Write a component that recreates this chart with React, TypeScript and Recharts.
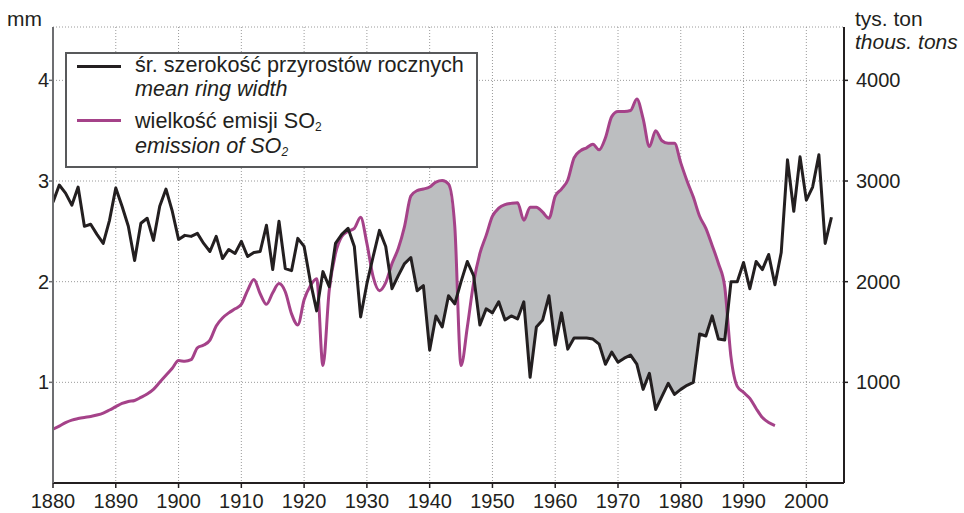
import { ComposedChart, Line, Area, XAxis, YAxis, CartesianGrid, Legend } from "recharts";

// mean ring width (mm), 1880-2004
const years = Array.from({ length: 125 }, (_, i) => 1880 + i);

const ringWidth = [
  2.79, 2.96, 2.88, 2.76, 2.94, 2.55, 2.57, 2.47, 2.38, 2.61,
  2.93, 2.75, 2.55, 2.21, 2.58, 2.63, 2.41, 2.75, 2.92, 2.7,
  2.42, 2.46, 2.45, 2.48, 2.38, 2.3, 2.45, 2.23, 2.32, 2.28,
  2.4, 2.25, 2.29, 2.3, 2.56, 2.12, 2.6, 2.13, 2.11, 2.43,
  2.35, 2.0, 1.71, 2.1, 1.95, 2.38, 2.47, 2.53, 2.35, 1.65,
  1.98, 2.25, 2.51, 2.35, 1.93, 2.06, 2.18, 2.24, 1.91, 1.96,
  1.32, 1.66, 1.55, 1.86, 1.78, 2.0, 2.2, 2.06, 1.57, 1.73,
  1.69, 1.8, 1.62, 1.66, 1.63, 1.8, 1.05, 1.55, 1.62, 1.86,
  1.37, 1.69, 1.33, 1.44, 1.44, 1.44, 1.43, 1.38, 1.18, 1.3,
  1.2, 1.24, 1.27, 1.18, 0.93, 1.09, 0.73, 0.86, 0.99, 0.88,
  0.93, 0.97, 1.0, 1.48, 1.46, 1.66, 1.43, 1.42, 2.0, 2.0,
  2.19, 1.93, 2.2, 2.12, 2.27, 1.97, 2.29, 3.21, 2.7, 3.24,
  2.81, 2.94, 3.26, 2.38, 2.64,
];

// SO2 emission (thousand tons), 1880-1995
const so2Emission = [
  535, 565, 600, 625, 640, 651, 660, 675, 695, 725,
  758, 790, 810, 820, 850, 884, 930, 1000, 1070, 1140,
  1216, 1210, 1225, 1343, 1370, 1420, 1560, 1640, 1690, 1730,
  1775, 1914, 2021, 1880, 1775, 1890, 1981, 1900, 1680, 1570,
  1820, 1960, 2030, 1167, 1914, 2280, 2450, 2500, 2530, 2640,
  2380, 2047, 1910, 1990, 2180, 2330, 2550, 2850, 2905, 2920,
  2940, 2990, 3004, 2970, 2550, 1167, 1550, 1990, 2280, 2460,
  2650, 2730, 2765, 2778, 2785, 2610, 2740, 2740, 2690, 2630,
  2850, 2920, 3010, 3230, 3300, 3330, 3365, 3310, 3430, 3640,
  3690, 3690, 3700, 3815, 3620, 3343, 3500, 3400, 3375, 3375,
  3180, 3000, 2840, 2650, 2530, 2360, 2180, 1950, 1250, 960,
  900, 840, 740, 650, 600, 570,
];

const decadeTicks = [1880, 1890, 1900, 1910, 1920, 1930, 1940, 1950, 1960, 1970, 1980, 1990, 2000];
const mmTicks = [1, 2, 3, 4];
const tonTicks = [1000, 2000, 3000, 4000];

// shaded period where emission runs above ring width
const FILL_FROM = 1933;
const FILL_TO = 1988;

const INK = "#231f20";
const MAGENTA = "#a54289";
const FONT = "'Liberation Sans', Arial, sans-serif";

type Row = { year: number; ring?: number; so2?: number | null; band?: [number, number] | null };

function buildRows(): Row[] {
  const rows: Row[] = years.map((year, i) => ({
    year,
    ring: ringWidth[i],
    so2: i < so2Emission.length ? so2Emission[i] : null,
    band: null,
  }));
  const crossings: Row[] = [];
  rows.forEach((r, i) => {
    if (r.year < FILL_FROM || r.year > FILL_TO || r.so2 == null) return;
    const em = r.so2 / 1000;
    r.band = [r.ring!, Math.max(r.ring!, em)];
    const next = rows[i + 1];
    if (!next || next.year > FILL_TO || next.so2 == null) return;
    const d0 = em - r.ring!;
    const d1 = next.so2 / 1000 - next.ring!;
    if (d0 * d1 < 0) {
      const t = d0 / (d0 - d1);
      const v = r.ring! + t * (next.ring! - r.ring!);
      crossings.push({ year: r.year + t, band: [v, v] });
    }
  });
  return [...rows, ...crossings].sort((a, b) => a.year - b.year);
}

const data = buildRows();

const tickStyle = { fontSize: 20, fill: INK, fontFamily: FONT };

function LegendBox() {
  const text = { position: "absolute" as const, left: 68, fontSize: 21.6, lineHeight: "24px", whiteSpace: "nowrap" as const, color: INK };
  const sub = { fontSize: 12, position: "relative" as const, top: 3 };
  return (
    <div
      style={{
        position: "relative",
        width: 413,
        height: 116,
        boxSizing: "border-box",
        border: "2px solid #58595b",
        background: "#fff",
        fontFamily: FONT,
      }}
    >
      <div style={{ position: "absolute", left: 10, top: 11, width: 44, height: 3, background: INK }} />
      <div style={{ ...text, top: -1 }}>śr. szerokość przyrostów rocznych</div>
      <div style={{ ...text, top: 23, fontStyle: "italic" }}>mean ring width</div>
      <div style={{ position: "absolute", left: 10, top: 65, width: 44, height: 3, background: MAGENTA }} />
      <div style={{ ...text, top: 55 }}>
        wielkość emisji SO<span style={sub}>2</span>
      </div>
      <div style={{ ...text, top: 80, fontStyle: "italic" }}>
        emission of SO<span style={sub}>2</span>
      </div>
    </div>
  );
}

export default function App() {
  const title = { position: "absolute" as const, fontSize: 21, lineHeight: "24px", color: INK, fontFamily: FONT, whiteSpace: "nowrap" as const };
  return (
    <div style={{ position: "absolute", left: 0, top: 0, width: 964, height: 513, background: "#fff" }}>
      <ComposedChart width={964} height={513} data={data} margin={{ top: 27, right: 0, bottom: 0, left: 0 }}>
        <CartesianGrid yAxisId="mm" stroke="#9a9a9a" strokeDasharray="1 2" />
        <XAxis
          dataKey="year"
          type="number"
          domain={[1880, 2006]}
          ticks={decadeTicks}
          allowDataOverflow
          height={30}
          tickSize={5}
          tickMargin={6}
          tick={tickStyle}
          axisLine={{ stroke: INK, strokeWidth: 2 }}
          tickLine={{ stroke: INK, strokeWidth: 1.5 }}
        />
        <YAxis
          yAxisId="mm"
          domain={[0, 4.53]}
          ticks={mmTicks}
          width={53}
          tickSize={4}
          tickMargin={0}
          tick={tickStyle}
          axisLine={{ stroke: "#6d6e71", strokeWidth: 2 }}
          tickLine={{ stroke: "#6d6e71", strokeWidth: 1.5 }}
          allowDataOverflow
        />
        <YAxis
          yAxisId="kt"
          orientation="right"
          domain={[0, 4530]}
          ticks={tonTicks}
          width={120}
          tickSize={4}
          tickMargin={8}
          tick={tickStyle}
          axisLine={{ stroke: INK, strokeWidth: 2 }}
          tickLine={{ stroke: INK, strokeWidth: 1.5 }}
          allowDataOverflow
        />
        <Area
          yAxisId="mm"
          dataKey="band"
          type="linear"
          stroke="none"
          fill="#bcbec0"
          fillOpacity={1}
          isAnimationActive={false}
          activeDot={false}
        />
        <Line
          yAxisId="kt"
          dataKey="so2"
          type="monotone"
          stroke={MAGENTA}
          strokeWidth={3}
          dot={false}
          activeDot={false}
          connectNulls
          isAnimationActive={false}
        />
        <Line
          yAxisId="mm"
          dataKey="ring"
          type="linear"
          stroke={INK}
          strokeWidth={3}
          strokeLinejoin="round"
          dot={false}
          activeDot={false}
          connectNulls
          isAnimationActive={false}
        />
        <Legend
          layout="vertical"
          align="center"
          verticalAlign="middle"
          wrapperStyle={{ left: 65, top: 52, width: 413, height: 116 }}
          content={() => <LegendBox />}
        />
      </ComposedChart>
      <div style={{ ...title, left: 7, top: 7 }}>mm</div>
      <div style={{ ...title, left: 855, top: 7 }}>tys. ton</div>
      <div style={{ ...title, left: 855, top: 30, fontStyle: "italic" }}>thous. tons</div>
    </div>
  );
}
